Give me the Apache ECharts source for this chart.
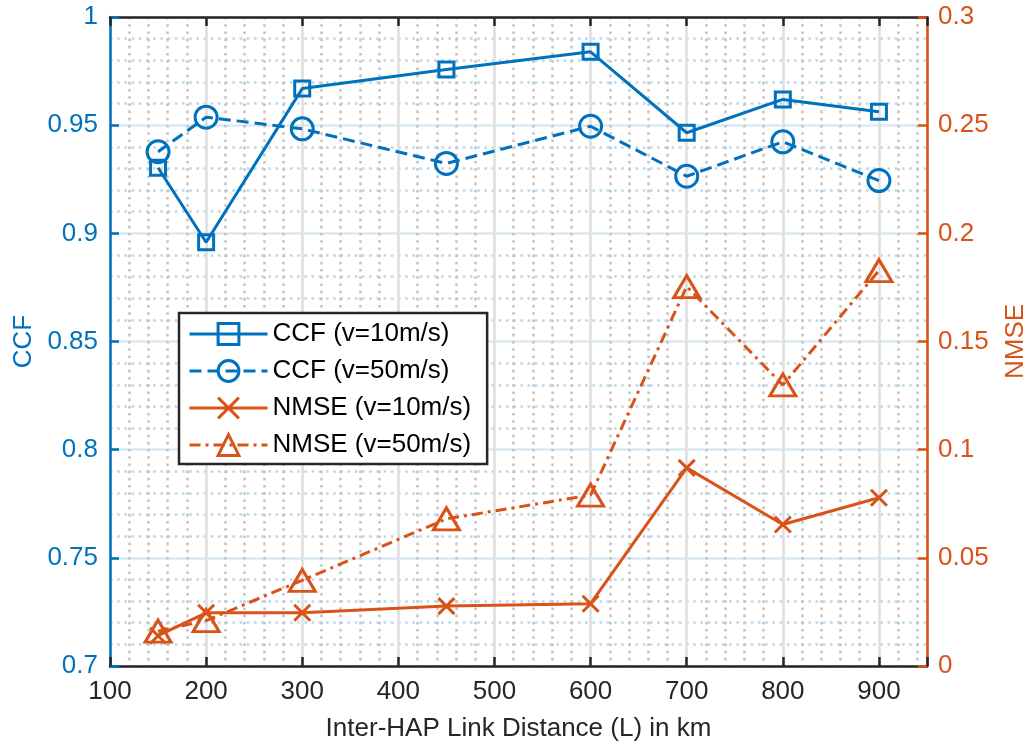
<!DOCTYPE html>
<html>
<head>
<meta charset="utf-8">
<script src="https://cdn.jsdelivr.net/npm/echarts@6/dist/echarts.min.js"></script>
<style>
  html, body { margin: 0; padding: 0; background: #fff; }
  #chart { width: 1030px; height: 749px; }
</style>
</head>
<body>
<div id="chart"></div>
<script>
// Inter-HAP link distance (km)
const distances = [150, 200, 300, 450, 600, 700, 800, 900];
// Channel correlation factor
const ccf10 = [0.9303, 0.8959, 0.9669, 0.9757, 0.9839, 0.9465, 0.9619, 0.9562];
const ccf50 = [0.9377, 0.9537, 0.9483, 0.9323, 0.9495, 0.9264, 0.9423, 0.9244];
// Normalised mean squared error
const nmse10 = [0.014, 0.0246, 0.0246, 0.0277, 0.0288, 0.0916, 0.0654, 0.0778];
const nmse50 = [0.0161, 0.021, 0.0396, 0.068, 0.079, 0.1754, 0.1299, 0.1828];

const seriesNames = ['CCF (v=10m/s)', 'CCF (v=50m/s)', 'NMSE (v=10m/s)', 'NMSE (v=50m/s)'];

const BLUE = '#0072BD';
const ORANGE = '#D95319';
const DARK = '#262626';
const FONT = 'Liberation Sans, Arial, Helvetica, sans-serif';
const FS = 26;

const pairs = ys => distances.map((x, i) => [x, ys[i]]);

function lineSeries(name, ys, color, yIdx, symbol, size, dash) {
  return {
    name: name,
    type: 'line',
    xAxisIndex: 0,
    yAxisIndex: yIdx,
    data: pairs(ys),
    symbol: symbol,
    symbolSize: size,
    showSymbol: true,
    lineStyle: { color: color, width: 3, type: dash },
    itemStyle: { color: 'rgba(255,255,255,0)', borderColor: color, borderWidth: 3 },
    emphasis: { disabled: true },
    z: 3
  };
}

const chart = echarts.init(document.getElementById('chart'), null, { renderer: 'canvas' });

const xCommon = { type: 'value', min: 100, max: 950, interval: 100 };

chart.setOption({
  animation: false,
  backgroundColor: '#fff',
  textStyle: { fontFamily: FONT },
  grid: { left: 110, right: 103, top: 17, bottom: 83, containLabel: false, outerBoundsMode: 'none' },
  legend: {
    data: seriesNames,
    orient: 'vertical',
    left: 179,
    top: 313,
    itemWidth: 78,
    itemHeight: 26,
    itemGap: 11,
    padding: [8, 16, 6, 9],
    borderColor: DARK,
    borderWidth: 2.5,
    backgroundColor: '#fff',
    selectedMode: false,
    lineStyle: { width: 3 },
    itemStyle: { borderWidth: 3 },
    textStyle: { fontSize: FS, color: '#000', fontFamily: FONT }
  },
  xAxis: [
    Object.assign({}, xCommon, {
      position: 'bottom',
      name: 'Inter-HAP Link Distance (L) in km',
      nameLocation: 'middle',
      nameGap: 50,
      nameTextStyle: { fontSize: FS, color: DARK, fontFamily: FONT },
      axisLine: { show: true, onZero: false, lineStyle: { color: DARK, width: 2.5 } },
      axisTick: { show: true, inside: true, length: 9, lineStyle: { color: DARK, width: 2.5 } },
      axisLabel: {
        fontSize: FS, color: DARK, fontFamily: FONT, margin: 13,
        formatter: v => (v % 100 === 0 ? String(v) : '')
      },
      splitLine: { show: true, lineStyle: { color: '#dedede', width: 2.5 } }
    }),
    Object.assign({}, xCommon, {
      position: 'top',
      axisLine: { show: true, onZero: false, lineStyle: { color: DARK, width: 2.5 } },
      axisTick: { show: true, inside: true, length: 9, lineStyle: { color: DARK, width: 2.5 } },
      axisLabel: { show: false },
      splitLine: { show: false }
    }),
    // minor vertical grid every 20 km
    {
      type: 'value', min: 100, max: 950, interval: 20,
      position: 'top',
      axisLine: { show: false },
      axisTick: { show: false },
      axisLabel: { show: false },
      splitLine: {
        show: true,
        showMaxLine: false,
        lineStyle: {
          color: ['rgba(0,0,0,0)', '#c2c2c2', '#c2c2c2', '#c2c2c2', '#c2c2c2'],
          width: 2.5,
          type: [2.6, 4.6]
        }
      }
    }
  ],
  yAxis: [
    {
      type: 'value', min: 0.7, max: 1, interval: 0.05,
      position: 'left',
      name: 'CCF',
      nameLocation: 'middle',
      nameGap: 72,
      nameTextStyle: { fontSize: FS, color: BLUE, fontFamily: FONT },
      axisLine: { show: true, onZero: false, lineStyle: { color: BLUE, width: 2.5 } },
      axisTick: { show: true, inside: true, length: 9, lineStyle: { color: BLUE, width: 2.5 } },
      axisLabel: { fontSize: FS, color: BLUE, fontFamily: FONT, margin: 12 },
      minorTick: { show: false, splitNumber: 5 },
      splitLine: { show: true, lineStyle: { color: '#d9eaf5', width: 2.5 } },
      minorSplitLine: { show: true, lineStyle: { color: '#b9d8ee', width: 2.5, type: [2.6, 4.6] } }
    },
    {
      type: 'value', min: 0, max: 0.3, interval: 0.05,
      position: 'right',
      name: 'NMSE',
      nameLocation: 'middle',
      nameGap: 76,
      nameTextStyle: { fontSize: FS, color: ORANGE, fontFamily: FONT },
      axisLine: { show: true, onZero: false, lineStyle: { color: ORANGE, width: 2.5 } },
      axisTick: { show: true, inside: true, length: 9, lineStyle: { color: ORANGE, width: 2.5 } },
      axisLabel: { fontSize: FS, color: ORANGE, fontFamily: FONT, margin: 11 },
      splitLine: { show: false }
    }
  ],
  series: [
    lineSeries(seriesNames[0], ccf10, BLUE, 0, 'rect', 15, 'solid'),
    lineSeries(seriesNames[1], ccf50, BLUE, 0, 'circle', 22, [12, 6]),
    lineSeries(seriesNames[2], nmse10, ORANGE, 1, 'path://M0,0L10,10M10,0L0,10', 16, 'solid'),
    lineSeries(seriesNames[3], nmse50, ORANGE, 1, 'triangle', [26, 22], [11, 5, 3, 5])
  ]
});
</script>
</body>
</html>
